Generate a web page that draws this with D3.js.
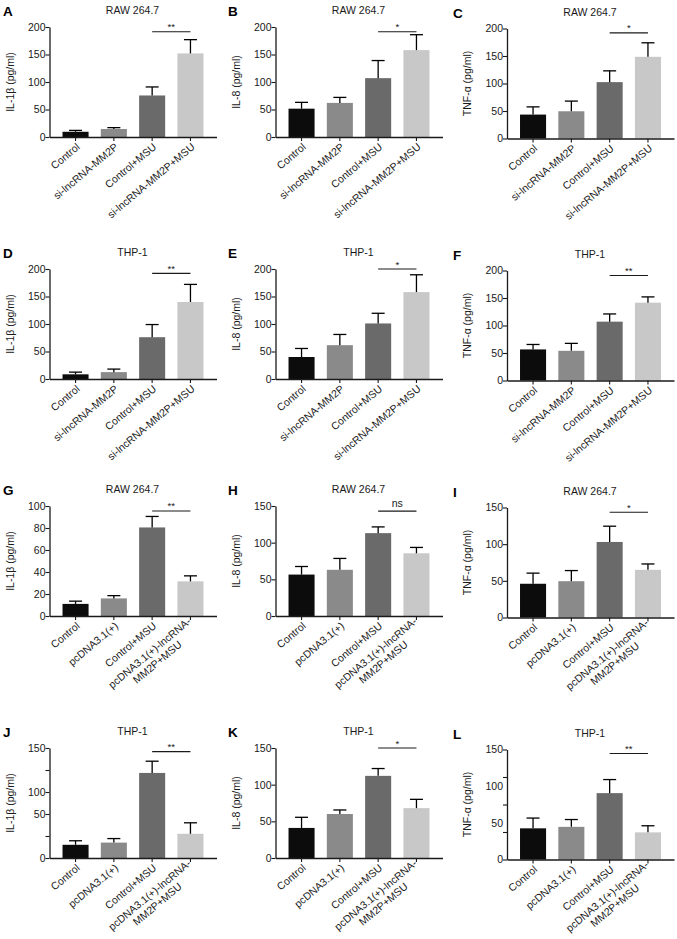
<!DOCTYPE html>
<html><head><meta charset="utf-8">
<script src="https://cdn.jsdelivr.net/npm/d3@7"></script>
<style>
body{margin:0;background:#fff;}
svg{display:block;font-family:"Liberation Sans",Arial,Helvetica,sans-serif;}
</style></head><body>
<svg id="fig" width="677" height="939"></svg>
<script>
// ---------- data ----------
const catsSi = ["Control", "si-lncRNA-MM2P", "Control+MSU", "si-lncRNA-MM2P+MSU"];
const catsPc = ["Control", "pcDNA3.1(+)", "Control+MSU", "pcDNA3.1(+)-lncRNA-\nMM2P+MSU"];
const panelLetters = ["A","B","C","D","E","F","G","H","I","J","K","L"];
const cellTitles = ["RAW 264.7","RAW 264.7","RAW 264.7","THP-1","THP-1","THP-1",
                    "RAW 264.7","RAW 264.7","RAW 264.7","THP-1","THP-1","THP-1"];
const yTitles = ["IL-1β (pg/ml)","IL-8 (pg/ml)","TNF-α (pg/ml)",
                 "IL-1β (pg/ml)","IL-8 (pg/ml)","TNF-α (pg/ml)",
                 "IL-1β (pg/ml)","IL-8 (pg/ml)","TNF-α (pg/ml)",
                 "IL-1β (pg/ml)","IL-8 (pg/ml)","TNF-α (pg/ml)"];
const yMax = [200,200,200,200,200,200,100,150,150,150,150,150];
const tickMarks = [
  [0,50,100,150,200],[0,50,100,150,200],[0,50,100,150,200],
  [0,50,100,150,200],[0,50,100,150,200],[0,50,100,150,200],
  [0,20,40,60,80,100],[0,50,100,150],[0,50,100,150],
  [0,30,60,90,120,150],[0,50,100,150],[0,37.5,75,112.5,150]
];
const tickLabelPos = [
  [0,50,100,150,200],[0,50,100,150,200],[0,50,100,150,200],
  [0,50,100,150,200],[0,50,100,150,200],[0,50,100,150,200],
  [0,20,40,60,80,100],[0,50,100,150],[0,50,100,150],
  [0,60,90,150],[0,50,100,150],[0,50,100,150]
];
const tickLabelText = [
  ["0","50","100","150","200"],["0","50","100","150","200"],["0","50","100","150","200"],
  ["0","50","100","150","200"],["0","50","100","150","200"],["0","50","100","150","200"],
  ["0","20","40","60","80","100"],["0","50","100","150"],["0","50","100","150"],
  ["0","50","100","150"],["0","50","100","150"],["0","50","100","150"]
];
const meanA = [9.5, 14.5, 75.5, 152];   const errA = [2.5, 2.5, 15.5, 25];
const meanB = [51.5, 62, 107, 158];     const errB = [11.5, 10, 32, 28];
const meanC = [43.5, 49.5, 102.5, 148.5]; const errC = [14, 18.5, 20.5, 25.5];
const meanD = [8.5, 12.5, 76, 140];     const errD = [4, 5.5, 23, 32];
const meanE = [40, 61.5, 101, 158];     const errE = [15.5, 19.5, 18.5, 31.5];
const meanF = [56.5, 54, 107, 141.5];   const errF = [9, 13.5, 14, 10.5];
const meanG = [11, 16, 80.5, 31.5];     const errG = [2.5, 2.5, 10, 5];
const meanH = [56.5, 63, 113, 85.5];    const errH = [11, 15.5, 8.5, 8];
const meanI = [46, 49.5, 103, 65];      const errI = [14.5, 14.5, 21.5, 8];
const meanJ = [18, 21, 116, 33];        const errJ = [5.5, 5.5, 16, 15];
const meanK = [41, 60, 112, 68];        const errK = [14.5, 5.5, 10, 12];
const meanL = [42.5, 44.5, 90.5, 37];   const errL = [14, 10, 18.5, 9];
const sigText = ["**","*","*","**","*","**","**","ns","*","**","*","**"];
const sigLevel = [191.5,191.5,192,192,200,191,95.5,143,143.5,145,150,144.5];

const means = [meanA,meanB,meanC,meanD,meanE,meanF,meanG,meanH,meanI,meanJ,meanK,meanL];
const errs  = [errA,errB,errC,errD,errE,errF,errG,errH,errI,errJ,errK,errL];
const barColors = ["#0c0c0c", "#8a8a8a", "#6a6a6a", "#c8c8c8"];

// ---------- layout ----------
const colX = [49.5, 275.5, 507];
const colDy = [0, 0, 1.5];
const rowY0 = [137, 379, 616, 858];
const plotH = 110, plotW = 167;
const letterX = [3, 228, 453];
const labelAngle = -40;
const fs = 10.5;

const svg = d3.select("#fig");
const ink = "#1a1a1a";

for (let i = 0; i < 12; i++) {
  const col = i % 3, row = Math.floor(i / 3);
  const x0 = colX[col], y0 = rowY0[row] + colDy[col];
  const cats = row < 2 ? catsSi : catsPc;
  const g = svg.append("g");

  const y = d3.scaleLinear().domain([0, yMax[i]]).range([y0, y0 - plotH]);
  const x = d3.scaleBand().domain(d3.range(4)).range([x0, x0 + plotW])
              .paddingInner(0.32).paddingOuter(0.34);
  const bw = x.bandwidth();

  g.append("text").attr("x", letterX[col]).attr("y", y0 - 121)
    .attr("font-size", 13.5).attr("font-weight", "bold").attr("fill", "#000")
    .text(panelLetters[i]);
  g.append("text").attr("x", x0 + 83).attr("y", y0 - 123)
    .attr("text-anchor", "middle").attr("font-size", fs).attr("fill", ink)
    .text(cellTitles[i]);

  g.selectAll("rect.bar").data(means[i]).join("rect")
    .attr("x", (d, j) => x(j)).attr("width", bw)
    .attr("y", d => y(d)).attr("height", d => y0 - y(d))
    .attr("fill", (d, j) => barColors[j]);

  const cap = 13;
  means[i].forEach((m, j) => {
    const cx = x(j) + bw / 2, yt = y(m + errs[i][j]);
    g.append("line").attr("x1", cx).attr("x2", cx).attr("y1", y(m)).attr("y2", yt)
      .attr("stroke", "#000").attr("stroke-width", 1.3);
    g.append("line").attr("x1", cx - cap / 2).attr("x2", cx + cap / 2).attr("y1", yt).attr("y2", yt)
      .attr("stroke", "#000").attr("stroke-width", 1.3);
  });

  const ya = g.append("g").attr("transform", `translate(${x0},0)`)
    .call(d3.axisLeft(y).tickValues(tickMarks[i]).tickSize(4).tickSizeOuter(0).tickFormat(""));
  ya.select(".domain").attr("stroke", ink).attr("stroke-width", 1.3);
  ya.selectAll(".tick line").attr("stroke", ink).attr("stroke-width", 1.1);
  const yl = g.append("g").attr("transform", `translate(${x0},0)`)
    .call(d3.axisLeft(y).tickValues(tickLabelPos[i]).tickSize(0).tickPadding(4)
      .tickFormat((d, k) => tickLabelText[i][k]));
  yl.select(".domain").remove();
  yl.selectAll("text").attr("font-size", fs).attr("fill", ink)
    .attr("font-family", "Liberation Sans, Arial, sans-serif");

  const xa = g.append("g").attr("transform", `translate(0,${y0})`)
    .call(d3.axisBottom(x).tickSize(4).tickSizeOuter(0).tickFormat(""));
  xa.select(".domain").attr("stroke", ink).attr("stroke-width", 1.3);
  xa.selectAll(".tick line").attr("stroke", ink).attr("stroke-width", 1.1);

  cats.forEach((c, j) => {
    const cx = x(j) + bw / 2;
    const lines = c.split("\n");
    const lg = g.append("g")
      .attr("transform", `translate(${cx + 5},${y0 + 11}) rotate(${labelAngle})`);
    if (lines.length === 1) {
      lg.append("text").attr("text-anchor", "end").attr("font-size", fs)
        .attr("fill", ink).text(c);
    } else {
      const lh = 12;
      const ts = lines.map((t, k) => lg.append("text").attr("font-size", fs)
        .attr("fill", ink).attr("text-anchor", "middle").text(t));
      const w = d3.max(ts, t => t.node().getComputedTextLength());
      ts.forEach((t, k) => t.attr("x", -w / 2)
        .attr("y", k * lh - (lines.length - 1) * lh / 2));
    }
  });

  g.append("text")
    .attr("transform", `translate(${x0 - 36},${y0 - plotH / 2}) rotate(-90)`)
    .attr("text-anchor", "middle").attr("font-size", fs).attr("fill", ink)
    .text(yTitles[i]);

  const sx1 = x(2) + bw / 2, sx2 = x(3) + bw / 2, sy = y(sigLevel[i]);
  g.append("line").attr("x1", sx1).attr("x2", sx2).attr("y1", sy).attr("y2", sy)
    .attr("stroke", ink).attr("stroke-width", 1.1);
  g.append("text").attr("x", (sx1 + sx2) / 2)
    .attr("y", sigText[i] === "ns" ? sy - 4 : sy - 1.5)
    .attr("text-anchor", "middle").attr("font-size", sigText[i] === "ns" ? fs : 9.5)
    .attr("fill", ink).text(sigText[i]);
}
</script>
</body></html>
